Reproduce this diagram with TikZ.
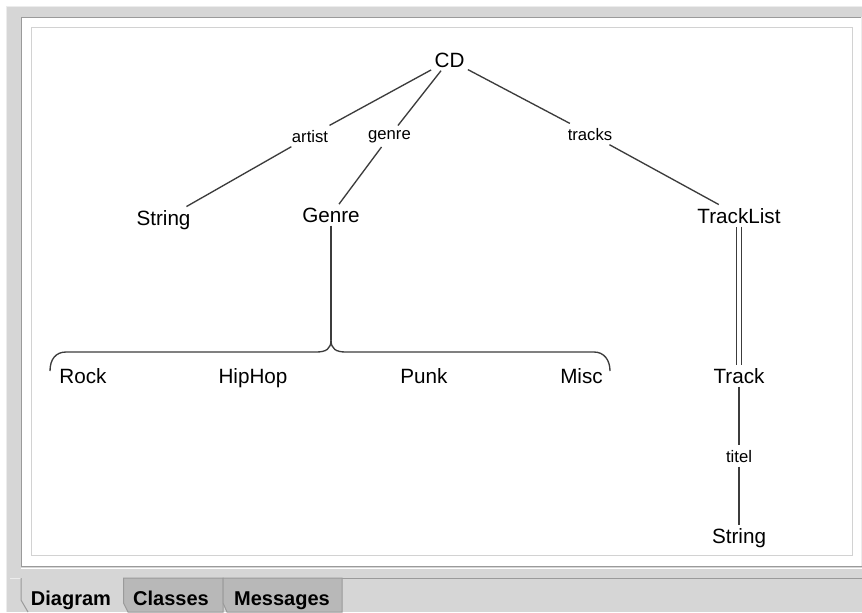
\documentclass[tikz,border=0pt]{standalone}
\usepackage{fontspec}
\setmainfont{Liberation Sans}
\definecolor{linegray}{HTML}{3C3C3C}
\definecolor{panelgray}{HTML}{D6D6D6}
\definecolor{tabgray}{HTML}{B8B8B8}
\definecolor{darkedge}{HTML}{9A9A9A}
\definecolor{lightedge}{HTML}{ECECEC}
\definecolor{canvasedge}{HTML}{D2D2D2}
\begin{document}
\begin{tikzpicture}[x=0.75pt,y=-0.75pt,
  cls/.style={anchor=base, inner sep=2.4pt, text=black,
    font=\fontsize{15.5}{18}\selectfont},
  role/.style={anchor=base, fill=white, inner sep=3.2pt, text=black,
    font=\fontsize{12.5}{15}\selectfont},
  link/.style={draw=linegray, line width=1pt},
  frameline/.style={line width=0.75pt},
  tabshape/.style={fill=tabgray, draw=darkedge, line width=0.75pt},
  tablabel/.style={anchor=base, text=black, inner sep=0pt,
    font=\fontsize{15}{18}\selectfont\bfseries}]
\useasboundingbox (0,0) rectangle (862,612);

% window panel and frame
\fill[white] (0,0) rectangle (862,612);
\fill[panelgray] (7,7) rectangle (862,612);
\draw[frameline, lightedge] (6.5,612) -- (6.5,6.5) -- (862,6.5);
\fill[white] (21,17) rectangle (862,566);
\draw[frameline, darkedge] (862,17) -- (21,17) -- (21,566) -- (862,566);
\draw[frameline, white] (21,568) -- (862,568);
\draw[frameline, lightedge] (861,17) -- (861,566);
\draw[frameline, canvasedge] (31,27) rectangle (852,555);

% tab strip
\draw[frameline, darkedge] (342,578) -- (862,578);
\draw[frameline, lightedge] (10,578) -- (21,578);
\draw[frameline, darkedge] (21,578) -- (21,600) -- (28,612);
\filldraw[tabshape] (128,612) -- (123.5,603) -- (123.5,578) -- (223,578) -- (223,612) -- cycle;
\filldraw[tabshape] (227,612) -- (223,603) -- (223,578) -- (342,578) -- (342,612) -- cycle;
\node[tablabel] (tDiagram) at (71,605) {Diagram};
\node[tablabel] (tClasses) at (171,605) {Classes};
\node[tablabel] (tMessages) at (282,605) {Messages};

% class nodes
\node[cls] (cd)     at (449.5,67) {CD};
\node[cls] (strA)   at (163.5,225) {String};
\node[cls] (genre)  at (331,222) {Genre};
\node[cls] (tlist)  at (739,223) {TrackList};
\node[cls] (rock)   at (83,383) {Rock};
\node[cls] (hiphop) at (253,383) {HipHop};
\node[cls] (punk)   at (424,383) {Punk};
\node[cls] (misc)   at (581.5,383) {Misc};
\node[cls] (track)  at (739,383) {Track};
\node[cls] (strB)   at (739,543) {String};

% role labels
\node[role] (lArtist) at (310,142) {artist};
\node[role] (lGenre)  at (389.5,139) {genre};
\node[role] (lTracks) at (590,140) {tracks};
\node[role] (lTitel)  at (739,462) {titel};

% associations
\draw[link] (cd) -- (lArtist) -- (strA);
\draw[link] (cd) -- (lGenre) -- (genre);
\draw[link] (cd) -- (lTracks) -- (tlist);
\draw[link] (track) -- (lTitel) -- (strB);
\draw[link, double=white, double distance=2.3pt] (tlist) -- (track);

% enumeration brace below Genre
\coordinate (fork) at (331,340);
\coordinate (braceL) at (50,371);
\coordinate (braceR) at (610,371);
\draw[link] (genre) -- (fork);
\draw[link] (fork) .. controls (331,349) and (326,352) .. (316,352)
  -- (66,352) .. controls (56,352) and (50,359) .. (braceL);
\draw[link] (fork) .. controls (331,349) and (336,352) .. (346,352)
  -- (594,352) .. controls (604,352) and (610,360) .. (braceR);
\end{tikzpicture}
\end{document}
